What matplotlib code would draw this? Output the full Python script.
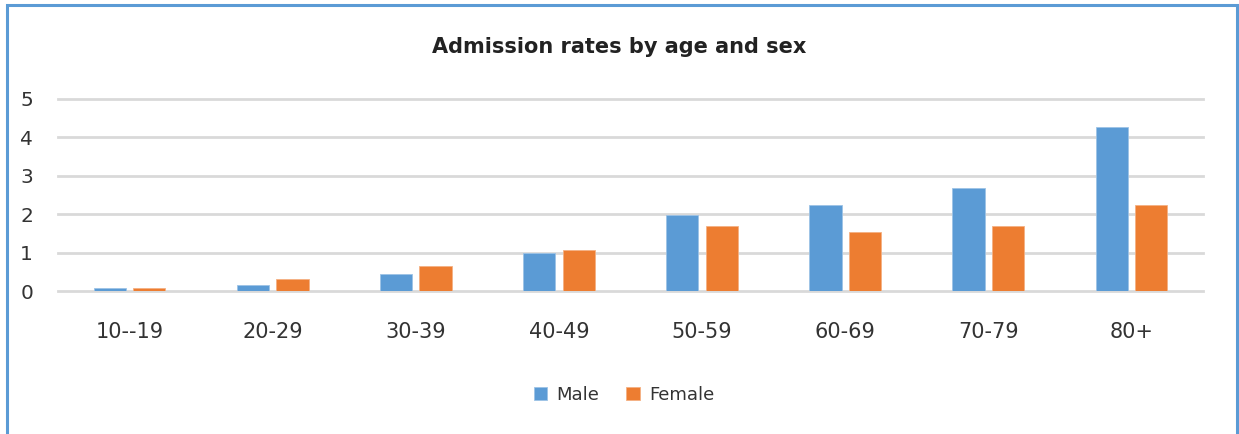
import matplotlib
matplotlib.use("Agg")
import matplotlib.pyplot as plt
import numpy as np
from matplotlib.patches import Rectangle

# Admission rates per age band
age_groups = ["10--19", "20-29", "30-39", "40-49", "50-59", "60-69", "70-79", "80+"]
male = [0.08, 0.16, 0.44, 1.0, 1.98, 2.25, 2.68, 4.26]
female = [0.08, 0.31, 0.66, 1.07, 1.71, 1.55, 1.71, 2.25]

blue = "#5B9BD5"
orange = "#ED7D31"
grid_grey = "#D9D9D9"

plt.rcParams["font.family"] = ["DejaVu Sans"]

fig = plt.figure(figsize=(12.39, 4.34), dpi=100)
ax = fig.add_axes([58 / 1239, 1 - 291.3 / 434, (1203 - 58) / 1239, (291.3 - 99) / 434])

x = np.arange(len(age_groups))
w = 0.225
ax.bar(x - 0.138, male, w, color=blue, edgecolor="#9DC3E6", linewidth=0.6, label="Male", zorder=3)
ax.bar(x + 0.138, female, w, color=orange, edgecolor="#F4B183", linewidth=0.6, label="Female", zorder=3)

ax.set_xlim(-0.5, len(age_groups) - 0.5)
ax.set_ylim(0, 5)
ax.set_yticks(range(0, 6))
ax.set_xticks(x)
ax.set_xticklabels(age_groups)
ax.yaxis.grid(True, color=grid_grey, linewidth=2, zorder=0)
for gl in ax.get_ygridlines():
    gl.set_clip_on(False)
ax.set_axisbelow(True)
for s in ax.spines.values():
    s.set_visible(False)
ax.tick_params(axis="y", length=0, pad=18, labelsize=14.5, labelcolor="#333333")
ax.tick_params(axis="x", length=0, pad=22, labelsize=15, labelcolor="#333333")

fig.text(0.5, 1 - 47 / 434, "Admission rates by age and sex", ha="center", va="center",
         fontsize=15, fontweight="bold", color="#222222")

fig.legend(loc="center", bbox_to_anchor=(624 / 1239, 1 - 395 / 434), ncol=2, frameon=False,
           fontsize=13, handlelength=0.75, handleheight=0.75, handletextpad=0.5, columnspacing=1.5,
           labelcolor="#333333")

# light blue frame around the chart
fig.patches.append(Rectangle((7 / 1239, -0.1), (1237 - 7) / 1239, 1.1 - 5 / 434,
                             transform=fig.transFigure, fill=False, edgecolor=blue,
                             linewidth=2.2, clip_on=False))

fig.savefig("out.png", dpi=100)
